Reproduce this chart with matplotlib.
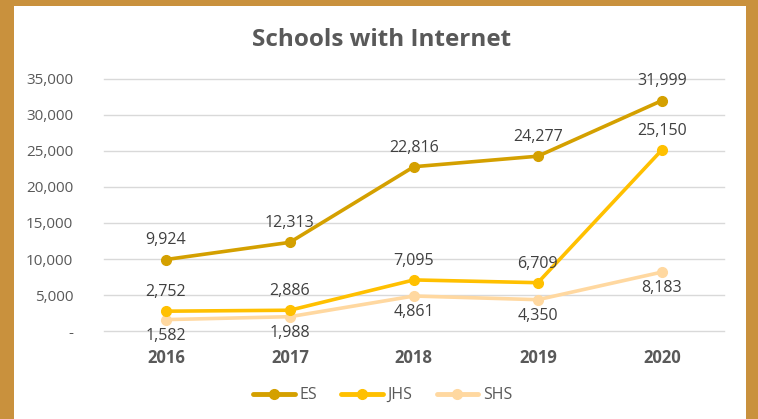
import matplotlib
matplotlib.use('Agg')

import matplotlib.pyplot as plt
from matplotlib.patches import Rectangle
from matplotlib.ticker import FuncFormatter

plt.rcParams['font.family'] = ['Open Sans', 'DejaVu Sans']

years = ['2016', '2017', '2018', '2019', '2020']
es = [9924, 12313, 22816, 24277, 31999]
jhs = [2752, 2886, 7095, 6709, 25150]
shs = [1582, 1988, 4861, 4350, 8183]

colors = {'ES': '#D4A000', 'JHS': '#FFC000', 'SHS': '#FFD8A0'}

fig = plt.figure(figsize=(7.58, 4.19), dpi=100)
fig.patch.set_facecolor('#C9913D')
fig.patches.append(Rectangle((14 / 758, 0), 732 / 758, 1 - 6 / 419,
                             transform=fig.transFigure, facecolor='white',
                             edgecolor='none', zorder=-5))

ax = fig.add_axes([0.137, 0.21, 0.818, 0.6015])
ax.set_facecolor('none')
ax.set_zorder(2)

x = range(len(years))
series = [('ES', es), ('JHS', jhs), ('SHS', shs)]
for name, vals in series[::-1]:
    ax.plot(x, vals, color=colors[name], lw=2.6, marker='o', ms=7,
            label=name, solid_capstyle='round')

txt = dict(ha='center', fontsize=11.5, color='#404040')
for i, v in enumerate(es):
    ax.annotate(f'{v:,}', (i, v), xytext=(0, 8), textcoords='offset points', va='bottom', **txt)
for i, v in enumerate(jhs):
    ax.annotate(f'{v:,}', (i, v), xytext=(0, 8), textcoords='offset points', va='bottom', **txt)
for i, v in enumerate(shs):
    ax.annotate(f'{v:,}', (i, v), xytext=(0, -6), textcoords='offset points', va='top', **txt)

ax.set_xlim(-0.5, 4.5)
ax.set_ylim(0, 35000)
ax.set_yticks(range(0, 35001, 5000))
ax.yaxis.set_major_formatter(FuncFormatter(lambda v, p: '-' if v == 0 else f'{int(v):,}'))
ax.set_xticks(list(x))
ax.set_xticklabels(years, fontweight='bold')
ax.tick_params(axis='both', length=0, colors='#595959', labelsize=11)
ax.tick_params(axis='x', pad=13, labelsize=12)
ax.tick_params(axis='y', pad=22)
ax.grid(axis='y', color='#D9D9D9', lw=1)
for gl in ax.get_ygridlines():
    gl.set_clip_on(False)
ax.set_axisbelow(True)
for s in ax.spines.values():
    s.set_visible(False)

fig.text(0.503, 0.905, 'Schools with Internet', ha='center', va='center',
         fontsize=17.5, fontweight='bold', color='#595959', zorder=3)

handles, labels = ax.get_legend_handles_labels()
leg = fig.legend(handles[::-1], labels[::-1], loc='center', bbox_to_anchor=(0.505, 0.057),
                 ncol=3, frameon=False, fontsize=11.5, labelcolor='#595959',
                 handlelength=2.6, columnspacing=1.5, handletextpad=0.3)
leg.set_zorder(3)
for h in leg.legend_handles:
    h.set_linewidth(3.5)

fig.savefig('out.png', dpi=100, facecolor=fig.get_facecolor())
